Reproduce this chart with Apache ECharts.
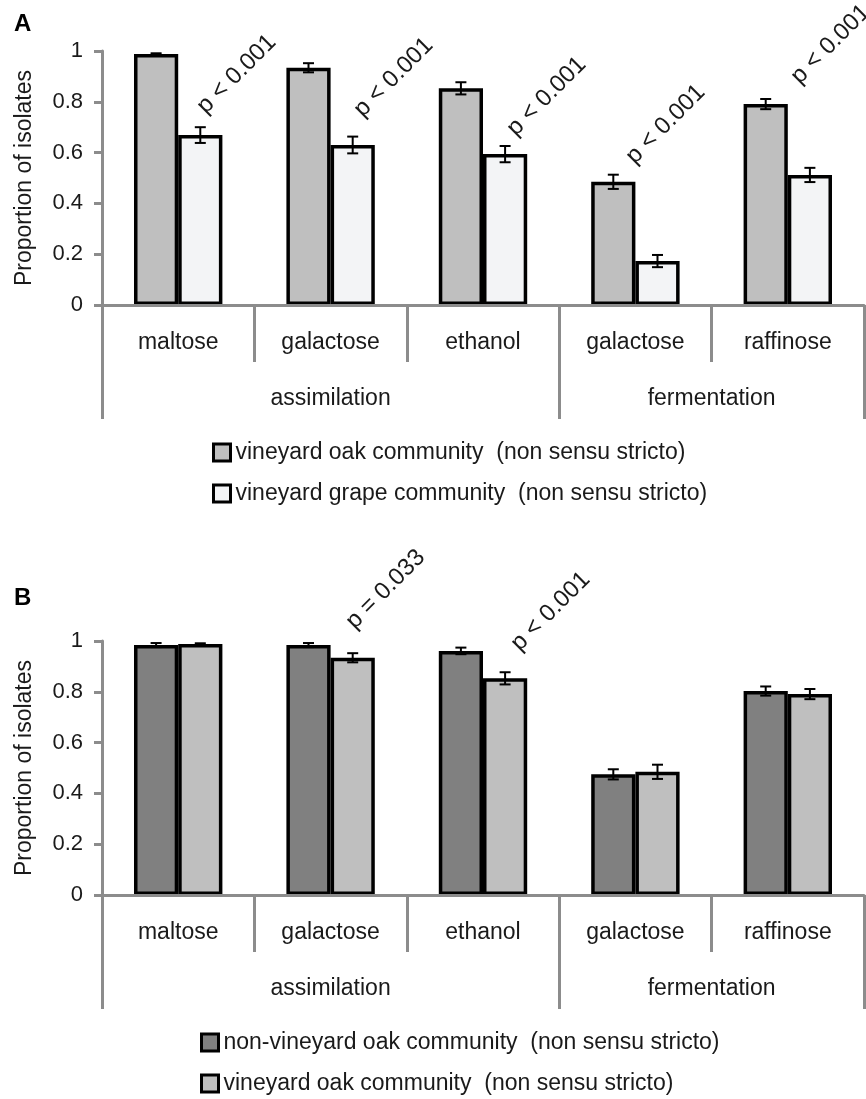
<!DOCTYPE html>
<html>
<head>
<meta charset="utf-8">
<script src="https://cdn.jsdelivr.net/npm/echarts@6/dist/echarts.min.js"></script>
<style>
html,body{margin:0;padding:0;background:#fff;}
#chart{width:866px;height:1099px;}
</style>
</head>
<body>
<div id="chart"></div>
<script>
// ---------- data ----------
const categories = ['maltose', 'galactose', 'ethanol', 'galactose', 'raffinose'];
const groupNames = ['assimilation', 'fermentation'];
const groupSizes = [3, 2];

const nameVineyardOak = 'vineyard oak community  (non sensu stricto)';
const nameVineyardGrape = 'vineyard grape community  (non sensu stricto)';
const nameNonVineyardOak = 'non-vineyard oak community  (non sensu stricto)';

const vineyardOak = [0.988, 0.934, 0.853, 0.485, 0.791];
const vineyardOakErr = [0.003, 0.018, 0.024, 0.028, 0.020];
const vineyardGrape = [0.669, 0.630, 0.594, 0.173, 0.512];
const vineyardGrapeErr = [0.031, 0.033, 0.032, 0.024, 0.028];
const nonVineyardOak = [0.984, 0.984, 0.961, 0.475, 0.803];
const nonVineyardOakErr = [0.008, 0.008, 0.013, 0.020, 0.018];

// p-value annotations: text, anchor position in (category units 0..5, proportion)
const pTextA = ['p < 0.001', 'p < 0.001', 'p < 0.001', 'p < 0.001', 'p < 0.001'];
const pPosXA = [0.650, 1.680, 2.684, 3.465, 4.547];
const pPosYA = [0.768, 0.756, 0.681, 0.571, 0.886];
const pTextB = ['p = 0.033', 'p < 0.001'];
const pPosXB = [1.627, 2.710];
const pPosYB = [1.063, 0.976];

// ---------- style ----------
const FONT = '"Liberation Sans", Arial, sans-serif';
const TXT = '#1a1a1a';
const AXIS = '#8c8c8c';
const colVineyardOak = '#bfbfbf';
const colGrape = '#f3f4f6';
const colNonVineyard = '#808080';
const FS = 23;

const groupBounds = [0];
groupSizes.forEach(s => groupBounds.push(groupBounds[groupBounds.length - 1] + s));
const groupCenters = groupSizes.map((s, i) => groupBounds[i] + s / 2);

const chart = echarts.init(document.getElementById('chart'), null, {renderer: 'canvas'});

const gridTops = [51, 641];
const gridH = 254;

function makeGrid(top) {
  return {left: 102, right: 2, top: top, height: gridH, containLabel: false};
}

function catAxis(gi) {
  return {
    type: 'category', gridIndex: gi, data: categories, position: 'bottom', z: 5,
    axisLine: {show: true, lineStyle: {color: AXIS, width: 3}},
    axisTick: {show: true, interval: 0, length: 57, lineStyle: {color: AXIS, width: 3}},
    axisLabel: {interval: 0, margin: 26, fontSize: FS, fontFamily: FONT, color: TXT},
    splitLine: {show: false}
  };
}
function groupAxis(gi) {
  return {
    type: 'value', gridIndex: gi, min: 0, max: categories.length, position: 'bottom', z: 5,
    axisLine: {show: false},
    axisTick: {show: true, customValues: groupBounds, length: 114, lineStyle: {color: AXIS, width: 3}},
    axisLabel: {show: true, customValues: groupCenters, margin: 82, fontSize: FS, fontFamily: FONT, color: TXT,
      formatter: v => { const i = groupCenters.indexOf(v); return i >= 0 ? groupNames[i] : ''; }},
    splitLine: {show: false}
  };
}
function valAxis(gi) {
  return {
    type: 'value', gridIndex: gi, min: 0, max: 1, interval: 0.2, z: 5,
    name: 'Proportion of isolates', nameLocation: 'middle', nameRotate: 90, nameGap: 66,
    nameTextStyle: {fontSize: FS, fontFamily: FONT, color: TXT},
    axisLine: {show: true, lineStyle: {color: AXIS, width: 3}},
    axisTick: {show: true, length: 8, lineStyle: {color: AXIS, width: 3}},
    axisLabel: {margin: 19, fontSize: 22, fontFamily: FONT, color: TXT},
    splitLine: {show: false}
  };
}

function barSeries(name, data, color, xi, yi) {
  return {
    type: 'bar', name: name, data: data, xAxisIndex: xi, yAxisIndex: yi,
    barGap: '0%', barCategoryGap: '42%',
    itemStyle: {color: color, borderColor: '#000', borderWidth: 3.5},
    emphasis: {disabled: true}, z: 2
  };
}

function errSeries(values, errs, slot, xi, yi) {
  return {
    type: 'custom', xAxisIndex: xi, yAxisIndex: yi, z: 4, silent: true,
    data: values.map((v, i) => [i, v, errs[i]]),
    encode: {x: 0, y: 1},
    renderItem: function (params, api) {
      const idx = api.value(0), v = api.value(1), e = api.value(2);
      const catW = api.size([1, 0])[0];
      const bw = catW * (1 - 0.42) / 2;
      const c = api.coord([idx, v]);
      const x = c[0] + (slot === 0 ? -bw / 2 : bw / 2);
      const top = api.coord([idx, v + e])[1];
      const bot = api.coord([idx, v - e])[1];
      const hw = 5.5;
      const st = {stroke: '#000', lineWidth: 2};
      return {type: 'group', children: [
        {type: 'line', shape: {x1: x, y1: top, x2: x, y2: bot}, style: st},
        {type: 'line', shape: {x1: x - hw, y1: top, x2: x + hw, y2: top}, style: st},
        {type: 'line', shape: {x1: x - hw, y1: bot, x2: x + hw, y2: bot}, style: st}
      ]};
    }
  };
}

function pSeries(texts, xs, ys, xi, yi) {
  return {
    type: 'custom', xAxisIndex: xi, yAxisIndex: yi, z: 6, silent: true, clip: false,
    data: texts.map((t, i) => [xs[i], ys[i]]),
    encode: {x: 0, y: 1},
    renderItem: function (params, api) {
      const p = api.coord([api.value(0), api.value(1)]);
      return {
        type: 'text', x: p[0], y: p[1], rotation: Math.PI / 4,
        style: {text: texts[params.dataIndex], fill: TXT, font: '24px ' + FONT, align: 'left', verticalAlign: 'middle'}
      };
    }
  };
}

const legendText = {fontSize: FS, fontFamily: FONT, color: TXT};

const option = {
  animation: false,
  backgroundColor: '#fff',
  title: [
    {text: 'A', left: 14, top: 12, padding: 0, textStyle: {fontSize: 24, fontWeight: 'bold', fontFamily: FONT, color: '#000'}},
    {text: 'B', left: 14, top: 586, padding: 0, textStyle: {fontSize: 24, fontWeight: 'bold', fontFamily: FONT, color: '#000'}}
  ],
  grid: [makeGrid(gridTops[0]), makeGrid(gridTops[1])],
  xAxis: [catAxis(0), groupAxis(0), catAxis(1), groupAxis(1)],
  yAxis: [valAxis(0), valAxis(1)],
  legend: [
    {orient: 'vertical', left: 212, top: 441, padding: 0, itemGap: 18, itemWidth: 17, itemHeight: 17,
      icon: 'rect', selectedMode: false, data: [nameVineyardOak, nameVineyardGrape], textStyle: legendText,
      itemStyle: {borderColor: '#000', borderWidth: 3}},
    {orient: 'vertical', left: 200, top: 1031, padding: 0, itemGap: 18, itemWidth: 17, itemHeight: 17,
      icon: 'rect', selectedMode: false, data: [nameNonVineyardOak, nameVineyardOak], textStyle: legendText,
      itemStyle: {borderColor: '#000', borderWidth: 3}}
  ],
  series: [
    barSeries(nameVineyardOak, vineyardOak, colVineyardOak, 0, 0),
    barSeries(nameVineyardGrape, vineyardGrape, colGrape, 0, 0),
    errSeries(vineyardOak, vineyardOakErr, 0, 0, 0),
    errSeries(vineyardGrape, vineyardGrapeErr, 1, 0, 0),
    pSeries(pTextA, pPosXA, pPosYA, 1, 0),
    barSeries(nameNonVineyardOak, nonVineyardOak, colNonVineyard, 2, 1),
    barSeries(nameVineyardOak, vineyardOak, colVineyardOak, 2, 1),
    errSeries(nonVineyardOak, nonVineyardOakErr, 0, 2, 1),
    errSeries(vineyardOak, vineyardOakErr, 1, 2, 1),
    pSeries(pTextB, pPosXB, pPosYB, 3, 1)
  ]
};
chart.setOption(option);
</script>
</body>
</html>
